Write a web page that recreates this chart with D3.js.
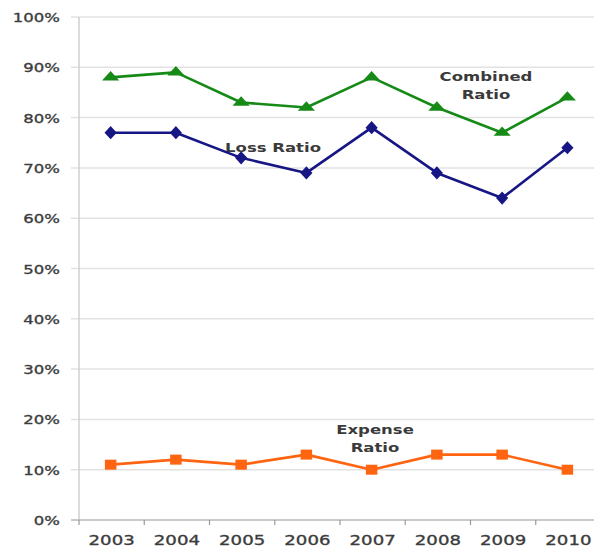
<!DOCTYPE html>
<html><head><meta charset="utf-8">
<script src="https://cdn.jsdelivr.net/npm/d3@7"></script>
<style>body{margin:0;background:#fff}svg{display:block}</style>
</head><body>
<svg id="c" width="594" height="548"></svg>
<script>
const years = ["2003","2004","2005","2006","2007","2008","2009","2010"];
const combinedRatio = [88, 89, 83, 82, 88, 82, 77, 84];
const lossRatio = [77, 77, 72, 69, 78, 69, 64, 74];
const expenseRatio = [11, 12, 11, 13, 10, 13, 13, 10];
const yTicks = [0,10,20,30,40,50,60,70,80,90,100];

const svg = d3.select("#c");
const x = d3.scaleBand().domain(years).range([79, 601]);
const y = d3.scaleLinear().domain([0, 100]).range([520, 17]);
const cx = d => x(d) + x.bandwidth()/2 - 1;
const SX = 1.27;
const txt = "#3c3c3c";

// gridlines
svg.append("g").selectAll("line").data(yTicks.slice(1)).join("line")
  .attr("x1", 71).attr("x2", 594).attr("y1", d=>y(d)).attr("y2", d=>y(d))
  .attr("stroke", "#e2e2e2").attr("stroke-width", 1.5);
// y axis line
svg.append("line").attr("x1",79).attr("x2",79).attr("y1",y(100)).attr("y2",y(0))
  .attr("stroke","#cfcfcf").attr("stroke-width",1.5);
// x axis line
svg.append("line").attr("x1",71).attr("x2",594).attr("y1",y(0)).attr("y2",y(0))
  .attr("stroke","#b8b8b8").attr("stroke-width",1.5);
// x ticks at band boundaries
svg.append("g").selectAll("line").data(years).join("line")
  .attr("x1", d=>x(d)).attr("x2", d=>x(d)).attr("y1", y(0)).attr("y2", y(0)+5)
  .attr("stroke","#999").attr("stroke-width",1.2);

function stretchedText(g, xx, yy, s, opts) {
  const fill = opts.fill || txt;
  return g.append("text")
    .attr("transform", `translate(${xx},${yy}) scale(${opts.sx || SX},1)`)
    .attr("text-anchor", opts.anchor || "middle")
    .attr("font-family", "DejaVu Sans, Verdana, sans-serif")
    .attr("font-size", opts.size || 13)
    .attr("font-weight", opts.weight || "normal")
    .attr("fill", fill)
    .attr("stroke", fill).attr("stroke-width", opts.sw == null ? 0.35 : opts.sw)
    .text(s);
}
const tg = svg.append("g");
yTicks.forEach(t => stretchedText(tg, 60, y(t)+5, t + "%", {anchor:"end"}));
years.forEach(yr => stretchedText(tg, cx(yr)+1, 545, yr, {size: 14.5, sx: 1.25}));

const line = d3.line().x((d,i)=>cx(years[i])).y(d=>y(d));
const series = [
  {vals: combinedRatio, color: "#168a16", shape: d3.symbolTriangle, size: 70, sc: "scale(1.35,0.85)"},
  {vals: lossRatio, color: "#161685", shape: d3.symbolDiamond, size: 50, sc: "scale(1.6,1)"},
  {vals: expenseRatio, color: "#ff6410", shape: d3.symbolSquare, size: 100, sc: "scale(1.15,1)"}
];
series.forEach(s => {
  svg.append("path").datum(s.vals).attr("d", line)
    .attr("fill","none").attr("stroke", s.color).attr("stroke-width", 2.6)
    .attr("stroke-linejoin","round");
  svg.append("g").selectAll("path").data(s.vals).join("path")
    .attr("d", d3.symbol().type(s.shape).size(s.size))
    .attr("transform", (d,i)=>`translate(${cx(years[i])},${y(d)}) ${s.sc}`)
    .attr("fill", s.color);
});

const lbl = {size: 13, weight: "bold", fill: "#3a3a3a", sw: 0};
stretchedText(tg, 486, 81, "Combined", lbl);
stretchedText(tg, 486, 99, "Ratio", lbl);
stretchedText(tg, 273, 152, "Loss Ratio", lbl);
stretchedText(tg, 375, 434, "Expense", lbl);
stretchedText(tg, 375, 452, "Ratio", lbl);
</script>
</body></html>
